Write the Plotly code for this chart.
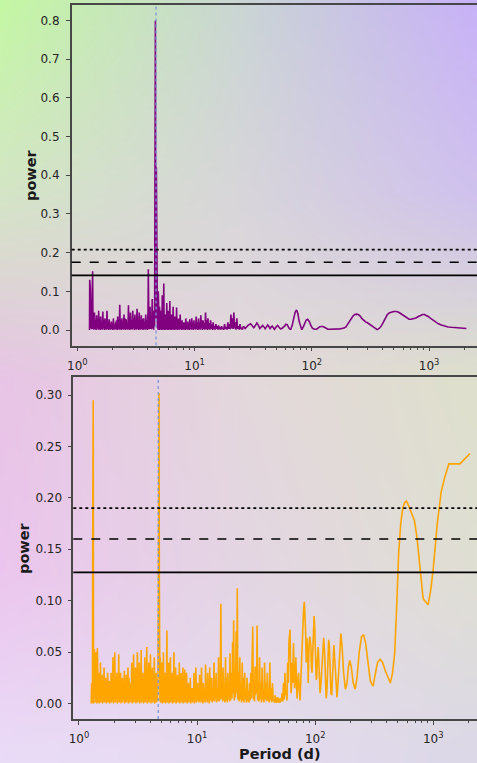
import base64, struct, zlib
import numpy as np
import plotly.graph_objects as go

# ---------------- data (period [d], power) ----------------
top_forest_a = [
    (1.27, 0.0), (1.275, 0.13), (1.28, 0.0), (1.29, 0.11), (1.30, 0.005), (1.31, 0.06), (1.32, 0.002), (1.335, 0.10), (1.35, 0.152), (1.36, 0.003),
    (1.37, 0.03), (1.385, 0.001), (1.40, 0.045), (1.415, 0.002), (1.43, 0.025), (1.445, 0.0), (1.46, 0.038), (1.475, 0.004), (1.49, 0.02), (1.505, 0.001),
    (1.52, 0.05), (1.535, 0.003), (1.55, 0.03), (1.565, 0.0), (1.58, 0.035), (1.595, 0.002), (1.61, 0.02), (1.63, 0.001), (1.65, 0.048), (1.665, 0.004),
    (1.68, 0.025), (1.70, 0.0), (1.72, 0.03), (1.735, 0.002), (1.75, 0.018), (1.77, 0.001), (1.79, 0.05), (1.81, 0.003), (1.83, 0.022), (1.85, 0.0),
    (1.87, 0.028), (1.89, 0.002), (1.91, 0.015), (1.93, 0.001), (1.95, 0.022), (1.97, 0.003), (1.99, 0.018), (2.01, 0.0), (2.03, 0.03), (2.05, 0.002),
    (2.07, 0.015), (2.095, 0.001), (2.12, 0.02), (2.14, 0.003), (2.16, 0.025), (2.185, 0.0), (2.21, 0.035), (2.235, 0.002), (2.26, 0.015), (2.28, 0.001),
    (2.30, 0.065), (2.325, 0.002), (2.35, 0.025), (2.375, 0.0), (2.40, 0.03), (2.425, 0.003), (2.45, 0.02), (2.475, 0.001), (2.50, 0.04), (2.53, 0.002),
    (2.56, 0.03), (2.585, 0.0), (2.61, 0.028), (2.64, 0.003), (2.67, 0.018), (2.70, 0.001), (2.73, 0.064), (2.755, 0.002), (2.78, 0.03), (2.81, 0.0),
    (2.84, 0.045), (2.87, 0.003), (2.90, 0.025), (2.935, 0.001), (2.97, 0.05), (3.00, 0.004), (3.03, 0.03), (3.065, 0.0), (3.10, 0.04), (3.13, 0.002),
    (3.16, 0.02), (3.195, 0.001), (3.23, 0.055), (3.265, 0.003), (3.30, 0.03), (3.335, 0.0), (3.37, 0.045), (3.405, 0.002), (3.44, 0.025), (3.475, 0.001),
    (3.51, 0.038), (3.55, 0.003), (3.59, 0.028), (3.63, 0.0), (3.67, 0.03), (3.71, 0.002), (3.75, 0.02), (3.79, 0.001), (3.83, 0.04), (3.87, 0.003),
    (3.91, 0.025), (3.95, 0.0), (3.99, 0.02), (4.01, 0.05), (4.03, 0.157), (4.05, 0.02), (4.08, 0.002), (4.12, 0.03), (4.17, 0.06), (4.21, 0.003),
    (4.26, 0.035), (4.30, 0.002), (4.35, 0.08), (4.40, 0.004), (4.45, 0.03), (4.48, 0.001), (4.52, 0.05),
]
top_peak = [
    (4.56, 0.01), (4.59, 0.25), (4.61, 0.60), (4.63, 0.80), (4.65, 0.55), (4.67, 0.20), (4.69, 0.03), (4.71, 0.30), (4.72, 0.42),
    (4.74, 0.20), (4.76, 0.01), (4.80, 0.12), (4.82, 0.005),
]
top_forest_b = [
    (4.85, 0.03), (4.875, 0.001), (4.90, 0.10), (4.93, 0.003), (4.96, 0.04), (4.99, 0.0), (5.02, 0.06), (5.05, 0.002), (5.08, 0.03), (5.115, 0.001),
    (5.15, 0.05), (5.185, 0.002), (5.22, 0.025), (5.26, 0.0), (5.30, 0.09), (5.34, 0.003), (5.38, 0.04), (5.42, 0.001), (5.46, 0.12), (5.50, 0.004),
    (5.54, 0.035), (5.58, 0.0), (5.62, 0.04), (5.66, 0.002), (5.70, 0.025), (5.745, 0.001), (5.79, 0.07), (5.835, 0.003), (5.88, 0.03), (5.925, 0.0),
    (5.97, 0.05), (6.015, 0.002), (6.06, 0.03), (6.105, 0.001), (6.15, 0.075), (6.20, 0.003), (6.25, 0.03), (6.30, 0.0), (6.35, 0.04), (6.40, 0.002),
    (6.45, 0.02), (6.505, 0.001), (6.56, 0.06), (6.615, 0.003), (6.67, 0.03), (6.725, 0.0), (6.78, 0.035), (6.84, 0.002), (6.90, 0.02), (6.96, 0.001),
    (7.02, 0.058), (7.08, 0.003), (7.14, 0.025), (7.205, 0.0), (7.27, 0.03), (7.335, 0.002), (7.40, 0.018), (7.465, 0.001), (7.53, 0.04), (7.60, 0.003),
    (7.67, 0.02), (7.74, 0.0), (7.81, 0.025), (7.88, 0.002), (7.95, 0.015), (8.02, 0.001), (8.10, 0.02), (8.175, 0.002), (8.25, 0.012), (8.33, 0.0),
    (8.41, 0.03), (8.49, 0.003), (8.57, 0.015), (8.655, 0.001), (8.74, 0.022), (8.825, 0.002), (8.91, 0.015), (9.00, 0.0), (9.09, 0.028), (9.18, 0.003),
    (9.27, 0.015), (9.365, 0.001), (9.46, 0.03), (9.56, 0.002), (9.66, 0.02), (9.76, 0.0), (9.86, 0.025), (9.98, 0.003), (10.1, 0.015), (10.2, 0.001),
    (10.3, 0.035), (10.4, 0.003), (10.5, 0.02), (10.65, 0.0), (10.8, 0.03), (10.9, 0.002), (11.0, 0.02), (11.15, 0.001), (11.3, 0.038), (11.4, 0.004),
    (11.5, 0.025), (11.65, 0.0), (11.8, 0.025), (11.95, 0.002), (12.1, 0.018), (12.25, 0.001), (12.4, 0.045), (12.55, 0.003), (12.7, 0.025), (12.85, 0.0),
    (13.0, 0.03), (13.15, 0.002), (13.3, 0.018), (13.5, 0.001), (13.7, 0.025), (13.85, 0.003), (14.0, 0.015), (14.2, 0.0), (14.4, 0.02), (14.6, 0.002),
    (14.8, 0.01), (15.0, 0.001), (15.2, 0.015), (15.4, 0.003), (15.6, 0.01), (15.8, 0.001), (16.0, 0.012), (16.25, 0.002), (16.5, 0.008), (16.75, 0.001),
    (17.0, 0.01), (17.25, 0.002), (17.5, 0.006), (17.75, 0.001), (18.0, 0.015), (18.3, 0.003), (18.6, 0.008), (18.9, 0.001), (19.2, 0.02), (19.5, 0.003),
    (19.8, 0.015), (20.1, 0.002), (20.4, 0.04), (20.7, 0.004), (21.0, 0.03), (21.3, 0.003), (21.6, 0.045), (21.9, 0.004), (22.2, 0.02), (22.55, 0.001),
    (22.9, 0.03), (23.25, 0.003), (23.6, 0.01), (24.0, 0.001), (24.4, 0.015), (24.8, 0.003), (25.2, 0.006), (25.6, 0.001), (26.1, 0.01),
]
top_smooth = [
    (27, 0.004), (28.5, 0.012), (30, 0.016), (31, 0.012), (32, 0.006), (33, 0.012), (34, 0.018), (35, 0.012), (36, 0.004), (37, 0.008),
    (38, 0.012), (39, 0.008), (40, 0.003), (41, 0.008), (42, 0.013), (43, 0.009), (44, 0.004), (45, 0.008), (46, 0.01), (47, 0.006),
    (48, 0.002), (49.5, 0.008), (51, 0.012), (52.5, 0.007), (54, 0.003), (55.5, 0.004), (57, 0.006), (58.5, 0.01), (60, 0.015), (61.5, 0.014),
    (63, 0.008), (64.5, 0.003), (66, 0.002), (68, 0.012), (70, 0.03), (72, 0.046), (74, 0.052), (76, 0.042), (78, 0.022), (80, 0.008),
    (82, 0.001), (84.5, 0.008), (87, 0.018), (89.5, 0.026), (92, 0.028), (95, 0.022), (98, 0.012), (101, 0.005), (105, 0.002), (109, 0.002),
    (112, 0.004), (116, 0.008), (120, 0.009), (124, 0.009), (128, 0.007), (132, 0.004), (137, 0.002), (143, 0.002), (150, 0.002), (158, 0.002),
    (165, 0.003), (172, 0.003), (180, 0.004), (188, 0.005), (195, 0.008), (202, 0.015), (210, 0.025), (218, 0.032), (225, 0.037), (232, 0.04),
    (240, 0.041), (249, 0.04), (258, 0.036), (266, 0.03), (275, 0.025), (287, 0.021), (300, 0.018), (315, 0.013), (330, 0.008), (345, 0.003),
    (360, 0.001), (375, 0.004), (390, 0.01), (405, 0.019), (420, 0.03), (440, 0.04), (460, 0.045), (480, 0.047), (500, 0.048), (525, 0.048),
    (550, 0.046), (575, 0.042), (600, 0.038), (625, 0.034), (650, 0.03), (675, 0.028), (700, 0.028), (735, 0.029), (770, 0.031), (810, 0.035),
    (850, 0.038), (880, 0.04), (910, 0.040), (945, 0.038), (980, 0.035), (1030, 0.03), (1080, 0.025), (1140, 0.02), (1200, 0.016), (1270, 0.013),
    (1350, 0.01), (1450, 0.008), (1550, 0.007), (1670, 0.006), (1800, 0.005), (1940, 0.0045), (2080, 0.004),
]

bot_forest_a = [
    (1.27, 0.0), (1.28, 0.02), (1.29, 0.0), (1.30, 0.01), (1.31, 0.2), (1.32, 0.295), (1.325, 0.12), (1.33, 0.0), (1.34, 0.04), (1.35, 0.053),
    (1.36, 0.002), (1.37, 0.03), (1.38, 0.001), (1.39, 0.05), (1.40, 0.004), (1.41, 0.025), (1.42, 0.0), (1.43, 0.054), (1.44, 0.003), (1.45, 0.03),
    (1.46, 0.001), (1.47, 0.03), (1.485, 0.0), (1.50, 0.02), (1.51, 0.002), (1.52, 0.04), (1.535, 0.001), (1.55, 0.025), (1.56, 0.003), (1.57, 0.028),
    (1.585, 0.0), (1.60, 0.02), (1.615, 0.002), (1.63, 0.035), (1.645, 0.001), (1.66, 0.022), (1.675, 0.004), (1.69, 0.025), (1.705, 0.0), (1.72, 0.018),
    (1.735, 0.002), (1.75, 0.03), (1.765, 0.001), (1.78, 0.02), (1.795, 0.003), (1.81, 0.022), (1.825, 0.0), (1.84, 0.015), (1.855, 0.002), (1.87, 0.03),
    (1.89, 0.001), (1.91, 0.02), (1.925, 0.003), (1.94, 0.045), (1.96, 0.0), (1.98, 0.025), (1.995, 0.002), (2.01, 0.05), (2.03, 0.001), (2.05, 0.02),
    (2.07, 0.003), (2.09, 0.03), (2.11, 0.0), (2.13, 0.025), (2.15, 0.002), (2.17, 0.048), (2.19, 0.001), (2.21, 0.02), (2.23, 0.003), (2.25, 0.03),
    (2.27, 0.0), (2.29, 0.02), (2.31, 0.002), (2.33, 0.025), (2.35, 0.001), (2.37, 0.015), (2.395, 0.003), (2.42, 0.032), (2.44, 0.0), (2.46, 0.02),
    (2.485, 0.002), (2.51, 0.028), (2.53, 0.001), (2.55, 0.02), (2.575, 0.003), (2.60, 0.035), (2.625, 0.0), (2.65, 0.025), (2.675, 0.002), (2.70, 0.02),
    (2.725, 0.001), (2.75, 0.015), (2.775, 0.003), (2.80, 0.04), (2.825, 0.0), (2.85, 0.025), (2.875, 0.002), (2.90, 0.048), (2.925, 0.001), (2.95, 0.02),
    (2.98, 0.003), (3.01, 0.035), (3.035, 0.0), (3.06, 0.03), (3.09, 0.002), (3.12, 0.05), (3.15, 0.001), (3.18, 0.02), (3.21, 0.003), (3.24, 0.04),
    (3.27, 0.0), (3.30, 0.03), (3.33, 0.002), (3.36, 0.052), (3.39, 0.001), (3.42, 0.025), (3.45, 0.003), (3.48, 0.03), (3.515, 0.0), (3.55, 0.02),
    (3.58, 0.002), (3.61, 0.045), (3.645, 0.001), (3.68, 0.03), (3.715, 0.003), (3.75, 0.055), (3.785, 0.0), (3.82, 0.025), (3.855, 0.002), (3.89, 0.04),
    (3.925, 0.001), (3.96, 0.03), (3.995, 0.003), (4.03, 0.048), (4.07, 0.0), (4.11, 0.02), (4.145, 0.002), (4.18, 0.035), (4.22, 0.001), (4.26, 0.025),
    (4.30, 0.003), (4.34, 0.045), (4.38, 0.0), (4.42, 0.02), (4.46, 0.002), (4.50, 0.03), (4.54, 0.001), (4.58, 0.02), (4.62, 0.003), (4.66, 0.02),
]
bot_peak = [
    (4.70, 0.10), (4.73, 0.30), (4.76, 0.302), (4.79, 0.12), (4.82, 0.01),
]
bot_forest_b = [
    (4.85, 0.002), (4.88, 0.045), (4.915, 0.001), (4.95, 0.02), (4.99, 0.003), (5.03, 0.04), (5.07, 0.0), (5.11, 0.025), (5.15, 0.002), (5.19, 0.05),
    (5.235, 0.001), (5.28, 0.02), (5.32, 0.003), (5.36, 0.03), (5.405, 0.0), (5.45, 0.02), (5.50, 0.002), (5.55, 0.071), (5.595, 0.001), (5.64, 0.03),
    (5.69, 0.003), (5.74, 0.04), (5.79, 0.0), (5.84, 0.02), (5.89, 0.002), (5.94, 0.045), (5.99, 0.001), (6.04, 0.03), (6.095, 0.003), (6.15, 0.03),
    (6.205, 0.0), (6.26, 0.02), (6.315, 0.002), (6.37, 0.05), (6.425, 0.001), (6.48, 0.025), (6.535, 0.003), (6.59, 0.035), (6.65, 0.0), (6.71, 0.02),
    (6.77, 0.002), (6.83, 0.028), (6.89, 0.001), (6.95, 0.025), (7.01, 0.003), (7.07, 0.04), (7.135, 0.0), (7.20, 0.02), (7.265, 0.002), (7.33, 0.03),
    (7.395, 0.001), (7.46, 0.025), (7.525, 0.003), (7.59, 0.035), (7.66, 0.0), (7.73, 0.018), (7.80, 0.002), (7.87, 0.033), (7.94, 0.001), (8.01, 0.02),
    (8.08, 0.003), (8.15, 0.03), (8.225, 0.0), (8.30, 0.015), (8.375, 0.002), (8.45, 0.02), (8.525, 0.001), (8.60, 0.015), (8.68, 0.003), (8.76, 0.025),
    (8.84, 0.0), (8.92, 0.012), (9.00, 0.002), (9.08, 0.015), (9.165, 0.001), (9.25, 0.012), (9.335, 0.003), (9.42, 0.03), (9.505, 0.0), (9.59, 0.02),
    (9.68, 0.002), (9.77, 0.035), (9.86, 0.001), (9.95, 0.015), (10.02, 0.003), (10.1, 0.02),
]
bot_forest_c = [
    (10.2, 0.002), (10.3, 0.01), (10.4, 0.001), (10.5, 0.028), (10.6, 0.004), (10.7, 0.015), (10.8, 0.001), (10.9, 0.035), (11.0, 0.003), (11.1, 0.02),
    (11.2, 0.0), (11.3, 0.02), (11.45, 0.002), (11.6, 0.012), (11.7, 0.001), (11.8, 0.038), (11.9, 0.004), (12.0, 0.02), (12.15, 0.001), (12.3, 0.03),
    (12.4, 0.003), (12.5, 0.012), (12.65, 0.0), (12.8, 0.035), (12.9, 0.004), (13.0, 0.025), (13.15, 0.002), (13.3, 0.025), (13.45, 0.001), (13.6, 0.015),
    (13.75, 0.003), (13.9, 0.04), (14.05, 0.002), (14.2, 0.025), (14.35, 0.004), (14.5, 0.03), (14.65, 0.001), (14.8, 0.015), (15.0, 0.003), (15.2, 0.045),
    (15.35, 0.002), (15.5, 0.025), (15.7, 0.004), (15.9, 0.097), (16.05, 0.005), (16.2, 0.03), (16.4, 0.002), (16.6, 0.035), (16.8, 0.003), (17.0, 0.02),
    (17.2, 0.001), (17.4, 0.045), (17.6, 0.003), (17.8, 0.025), (18.0, 0.001), (18.2, 0.03), (18.4, 0.004), (18.6, 0.015), (18.8, 0.002), (19.0, 0.049),
    (19.25, 0.003), (19.5, 0.03), (19.75, 0.005), (20.0, 0.06), (20.2, 0.01), (20.4, 0.081), (20.65, 0.003), (20.9, 0.035), (21.15, 0.006), (21.4, 0.07),
    (21.65, 0.01), (21.9, 0.112), (22.15, 0.004), (22.4, 0.03), (22.7, 0.002), (23.0, 0.045), (23.25, 0.004), (23.5, 0.02), (23.8, 0.001), (24.1, 0.04),
    (24.4, 0.003), (24.7, 0.025), (25.0, 0.001), (25.3, 0.03), (25.6, 0.004), (25.9, 0.012), (26.2, 0.001), (26.5, 0.025), (26.85, 0.002), (27.2, 0.012),
    (27.5, 0.001), (27.8, 0.02), (28.15, 0.003), (28.5, 0.03), (28.85, 0.005), (29.2, 0.055), (29.4, 0.03), (29.6, 0.075), (29.95, 0.004), (30.3, 0.02),
    (30.65, 0.002), (31.0, 0.036), (31.3, 0.008), (31.6, 0.03), (31.9, 0.01), (32.2, 0.076), (32.6, 0.003), (33.0, 0.02), (33.4, 0.002), (33.8, 0.045),
    (34.2, 0.004), (34.6, 0.02), (35.05, 0.001), (35.5, 0.035), (35.95, 0.003), (36.4, 0.015), (36.85, 0.001), (37.3, 0.04), (37.8, 0.004), (38.3, 0.02),
    (38.8, 0.002), (39.3, 0.03), (39.8, 0.003), (40.3, 0.012), (40.8, 0.001), (41.3, 0.04), (41.85, 0.003), (42.4, 0.015), (42.95, 0.001), (43.5, 0.02),
    (44.05, 0.003), (44.6, 0.004), (45.2, 0.001), (45.8, 0.008), (46.4, 0.001), (47.0, 0.006), (47.65, 0.001), (48.3, 0.006), (48.95, 0.001), (49.6, 0.005),
    (50.3, 0.001), (51.0, 0.005), (51.7, 0.002), (52.4, 0.01), (53.1, 0.002), (53.9, 0.02), (54.7, 0.004), (55.5, 0.03), (56.2, 0.008), (57.0, 0.012),
    (57.7, 0.003), (58.5, 0.04), (59.2, 0.02), (60.0, 0.06), (61.2, 0.072), (61.8, 0.04), (62.5, 0.01), (63.2, 0.02), (64.0, 0.04), (64.7, 0.02),
    (65.5, 0.059), (66.2, 0.03), (67.0, 0.015), (67.8, 0.03), (68.6, 0.045), (69.4, 0.02), (70.3, 0.005), (71.2, 0.02), (72.2, 0.03), (73.3, 0.015),
    (74.4, 0.003), (75.4, 0.02), (76.5, 0.04), (77.5, 0.06), (78.5, 0.08), (79.7, 0.09), (80.9, 0.099), (82.0, 0.085), (83.0, 0.07), (84.0, 0.04),
    (85.0, 0.064), (85.8, 0.055), (86.5, 0.05), (87.2, 0.02), (88.0, 0.04), (89.0, 0.06), (90.0, 0.065), (91.0, 0.06), (92.0, 0.055), (93.0, 0.035),
    (94.0, 0.03), (95.0, 0.045), (96.0, 0.06), (97.0, 0.08), (97.9, 0.085), (99.0, 0.075), (100.0, 0.06), (101.0, 0.04), (102.0, 0.023), (103.0, 0.025),
    (104.0, 0.04), (105.0, 0.05), (106.0, 0.055), (107.0, 0.045), (108.0, 0.03), (109.0, 0.015), (110.0, 0.01),
]
bot_smooth = [
    (112, 0.02), (114, 0.04), (116, 0.058), (118, 0.064), (120, 0.05), (122, 0.025), (124, 0.005), (126, 0.015), (128, 0.045), (130, 0.062),
    (132, 0.055), (134, 0.03), (136, 0.01), (138, 0.008), (141, 0.035), (144, 0.057), (147, 0.04), (150, 0.015), (153, 0.006), (157, 0.025),
    (161, 0.055), (165, 0.068), (169, 0.055), (174, 0.03), (180, 0.014), (186, 0.02), (191, 0.035), (196, 0.042), (202, 0.036), (210, 0.02),
    (218, 0.014), (226, 0.025), (236, 0.05), (247, 0.065), (257, 0.067), (268, 0.058), (280, 0.04), (293, 0.022), (309, 0.017), (322, 0.028),
    (337, 0.04), (355, 0.043), (372, 0.04), (392, 0.032), (412, 0.025), (433, 0.02), (452, 0.03), (471, 0.049), (490, 0.095), (509, 0.146),
    (530, 0.175), (551, 0.19), (570, 0.195), (592, 0.197), (620, 0.192), (650, 0.186), (692, 0.178), (730, 0.16), (768, 0.133), (800, 0.108),
    (820, 0.102), (860, 0.099), (904, 0.096), (950, 0.11), (997, 0.13), (1080, 0.175), (1167, 0.206), (1250, 0.22), (1355, 0.233), (1500, 0.233),
    (1680, 0.233), (2043, 0.243),
]

best_period = 4.69
top_levels = [0.141, 0.175, 0.208]   # solid, dashed, dotted
bot_levels = [0.1275, 0.160, 0.190]
top_yticks = [0.0, 0.1, 0.2, 0.3, 0.4, 0.5, 0.6, 0.7, 0.8]
bot_yticks = [0.00, 0.05, 0.10, 0.15, 0.20, 0.25, 0.30]
decades = [1, 10, 100, 1000]
decade_labels = ["10<sup>0</sup>", "10<sup>1</sup>", "10<sup>2</sup>", "10<sup>3</sup>"]

top_period, top_power = zip(*(top_forest_a + top_peak + top_forest_b + top_smooth))
bot_period, bot_power = zip(*(bot_forest_a + bot_peak + bot_forest_b + bot_forest_c + bot_smooth))

# ---------------- background gradient (style) ----------------
def hexrgb(h):
    h = h.lstrip('#')
    return [int(h[i:i + 2], 16) for i in (0, 2, 4)]

grid = np.array([
    [hexrgb(c) for c in ("#c4f8a4", "#cad6d4", "#c8b2f8")],
    [hexrgb(c) for c in ("#d4e6c6", "#d8d6da", "#d0c2ee")],
    [hexrgb(c) for c in ("#e8c4e6", "#e4d8dc", "#dee0cc")],
    [hexrgb(c) for c in ("#ecc6ee", "#e4d6e4", "#e0dfd4")],
    [hexrgb(c) for c in ("#eadcf8", "#e6dcf0", "#dcd8e8")],
], dtype=float)

H, W = 191, 120
gy = np.linspace(0, grid.shape[0] - 1, H)
gx = np.linspace(0, grid.shape[1] - 1, W)
rows = np.zeros((grid.shape[0], W, 3))
for r in range(grid.shape[0]):
    for ch in range(3):
        rows[r, :, ch] = np.interp(gx, np.arange(grid.shape[1]), grid[r, :, ch])
img = np.zeros((H, W, 3))
for ch in range(3):
    for c in range(W):
        img[:, c, ch] = np.interp(gy, np.arange(grid.shape[0]), rows[:, c, ch])
img = np.clip(img, 0, 255).astype(np.uint8)

def png_uri(arr):
    h, w, _ = arr.shape
    raw = b"".join(b"\x00" + arr[i].tobytes() for i in range(h))
    def chunk(t, d):
        return struct.pack(">I", len(d)) + t + d + struct.pack(">I", zlib.crc32(t + d) & 0xffffffff)
    png = (b"\x89PNG\r\n\x1a\n" + chunk(b"IHDR", struct.pack(">IIBBBBB", w, h, 8, 2, 0, 0, 0))
           + chunk(b"IDAT", zlib.compress(raw, 9)) + chunk(b"IEND", b""))
    return "data:image/png;base64," + base64.b64encode(png).decode()

# ---------------- figure ----------------
FW, FH = 477, 763
FONT = "DejaVu Sans"
AX = "#474747"

fig = go.Figure()
fig.add_trace(go.Scatter(x=top_period, y=top_power, mode="lines",
                         line=dict(color="purple", width=1.6), xaxis="x", yaxis="y", showlegend=False))
fig.add_trace(go.Scatter(x=bot_period, y=bot_power, mode="lines",
                         line=dict(color="orange", width=1.6), xaxis="x2", yaxis="y2", showlegend=False))

top_yr = [-0.04, 0.84]
bot_yr = [-0.015, 0.3175]
fig.add_trace(go.Scatter(x=[best_period, best_period], y=top_yr, mode="lines",
                         line=dict(color="#7c98d6", width=1.3, dash="dot"), xaxis="x", yaxis="y", showlegend=False))
fig.add_trace(go.Scatter(x=[best_period, best_period], y=bot_yr, mode="lines",
                         line=dict(color="#7c98d6", width=1.3, dash="dot"), xaxis="x2", yaxis="y2", showlegend=False))

styles = [("solid", 1.8), ("dash", 1.6), ("dot", 1.8)]
for lev, (dash, w) in zip(top_levels, styles):
    fig.add_shape(type="line", xref="x domain", yref="y", x0=0, x1=1, y0=lev, y1=lev,
                  line=dict(color="black", width=w, dash=dash))
for lev, (dash, w) in zip(bot_levels, styles):
    fig.add_shape(type="line", xref="x2 domain", yref="y2", x0=0, x1=1, y0=lev, y1=lev,
                  line=dict(color="black", width=w, dash=dash))

minor_vals = [m * d for d in decades for m in range(2, 10)]

def xaxis_cfg(rng, dom, anchor):
    return dict(type="log", range=rng, domain=dom, anchor=anchor,
                tickmode="array", tickvals=decades, ticktext=decade_labels,
                ticks="outside", ticklen=4, tickwidth=1.2, tickcolor=AX, ticklabelstandoff=4,
                minor=dict(tickmode="array", tickvals=minor_vals, ticks="outside",
                           ticklen=2.5, tickwidth=1, tickcolor=AX, showgrid=False),
                showline=True, linecolor=AX, linewidth=1.5, mirror=True,
                showgrid=False, zeroline=False, automargin=False,
                tickfont=dict(family=FONT, size=12, color="#262626"))

def yaxis_cfg(rng, dom, anchor, vals, fmt, standoff):
    return dict(range=rng, domain=dom, anchor=anchor,
                tickmode="array", tickvals=vals, ticktext=[fmt.format(v) for v in vals],
                ticks="outside", ticklen=4, tickwidth=1.2, tickcolor=AX, ticklabelstandoff=standoff,
                showline=True, linecolor=AX, linewidth=1.5, mirror=False,
                showgrid=False, zeroline=False, automargin=False,
                tickfont=dict(family=FONT, size=12, color="#262626"))

fig.update_layout(
    width=FW, height=FH,
    margin=dict(l=0, r=0, t=0, b=0),
    paper_bgcolor="rgba(0,0,0,0)", plot_bgcolor="rgba(0,0,0,0)",
    xaxis=xaxis_cfg([-0.048, 3.408], [71.7 / FW, 1.0], "y"),
    yaxis=yaxis_cfg(top_yr, [1 - 345.5 / FH, 1 - 5 / FH], "x", top_yticks, "{:.1f}", 4),
    xaxis2=xaxis_cfg([-0.048, 3.370], [73.3 / FW, 1.0], "y2"),
    yaxis2=yaxis_cfg(bot_yr, [1 - 719 / FH, 1 - 377 / FH], "x2", bot_yticks, "{:.2f}", 3),
    images=[dict(source=png_uri(img), xref="paper", yref="paper", x=0, y=1, sizex=1, sizey=1,
                 sizing="stretch", xanchor="left", yanchor="top", layer="below")],
    annotations=[
        dict(text="<b>power</b>", x=31 / FW, y=1 - 175 / FH, xref="paper", yref="paper",
             textangle=-90, showarrow=False, font=dict(family=FONT, size=14.5, color="#1a1a1a"),
             xanchor="center", yanchor="middle"),
        dict(text="<b>power</b>", x=24 / FW, y=1 - 548 / FH, xref="paper", yref="paper",
             textangle=-90, showarrow=False, font=dict(family=FONT, size=14.5, color="#1a1a1a"),
             xanchor="center", yanchor="middle"),
        dict(text="<b>Period (d)</b>", x=280 / FW, y=1 - 754 / FH, xref="paper", yref="paper",
             showarrow=False, font=dict(family=FONT, size=14.5, color="#1a1a1a"),
             xanchor="center", yanchor="middle"),
    ],
)

fig.write_html("out.html")
